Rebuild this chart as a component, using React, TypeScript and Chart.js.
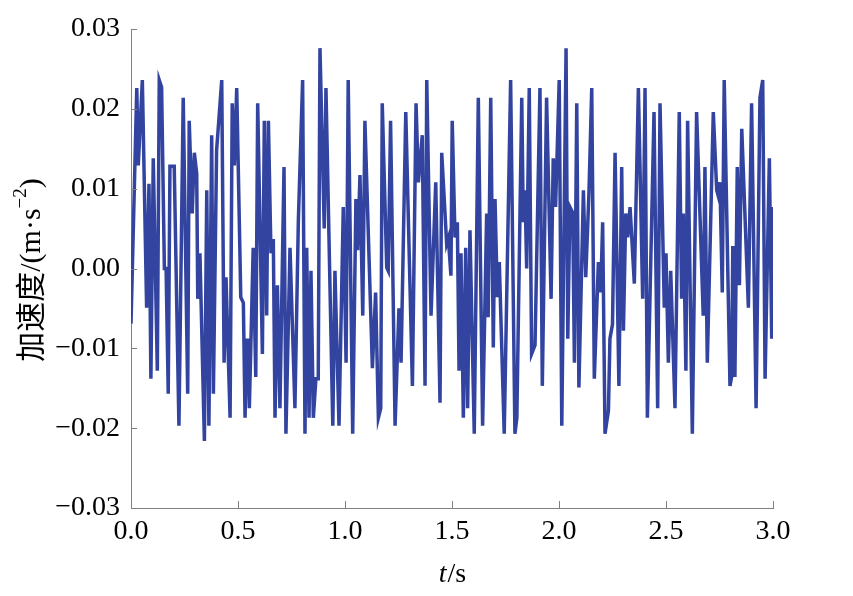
import React, { useEffect, useRef } from "react";
import { Chart, registerables } from "chart.js";

Chart.register(...registerables);

// time (s)
const times: number[] = [
  0.0, 0.027, 0.034, 0.053, 0.073, 0.084, 0.093, 0.104, 0.123, 0.132, 0.143, 0.156, 0.164, 0.174, 0.182, 0.202, 0.224, 0.244, 0.265, 0.272, 0.286, 0.296, 0.307, 0.312, 0.322, 0.343, 0.354, 0.364, 0.377, 0.385,
  0.4, 0.424, 0.435, 0.444, 0.463, 0.473, 0.483, 0.494, 0.513, 0.525, 0.533, 0.541, 0.548, 0.553, 0.571, 0.583, 0.592, 0.614, 0.623, 0.634, 0.642, 0.654, 0.665, 0.673, 0.684, 0.696, 0.715, 0.724, 0.743, 0.766,
  0.782, 0.802, 0.813, 0.821, 0.832, 0.841, 0.852, 0.864, 0.875, 0.883, 0.903, 0.911, 0.943, 0.953, 0.972, 0.992, 1.005, 1.015, 1.036, 1.051, 1.059, 1.07, 1.083, 1.093,
  1.128, 1.143, 1.156, 1.167, 1.174, 1.195, 1.202, 1.213, 1.234, 1.252, 1.262, 1.284, 1.315, 1.332, 1.343, 1.361, 1.374, 1.382, 1.402, 1.424, 1.444, 1.452, 1.475, 1.483, 1.495, 1.501,
  1.514, 1.525, 1.533, 1.542, 1.553, 1.564, 1.573, 1.584, 1.604, 1.623, 1.643, 1.662, 1.669, 1.681, 1.693, 1.701, 1.712, 1.721, 1.744, 1.774, 1.794, 1.803, 1.826, 1.833, 1.841, 1.849, 1.861, 1.872,
  1.888, 1.911, 1.922, 1.942, 1.963, 1.973, 1.984, 2.001, 2.013, 2.033, 2.041, 2.051, 2.064, 2.072, 2.083, 2.093, 2.114, 2.125, 2.14, 2.153, 2.165, 2.184, 2.195, 2.204, 2.215, 2.231, 2.238, 2.25, 2.262,
  2.28, 2.293, 2.301, 2.312, 2.321, 2.332, 2.352, 2.371, 2.391, 2.402, 2.413, 2.444, 2.461, 2.472, 2.492, 2.5, 2.511, 2.522, 2.542, 2.562, 2.573, 2.581, 2.593, 2.601, 2.623,
  2.643, 2.674, 2.682, 2.693, 2.721, 2.737, 2.745, 2.752, 2.763, 2.772, 2.799, 2.807, 2.812, 2.819, 2.822, 2.833, 2.843, 2.854, 2.885, 2.9, 2.921, 2.939, 2.952, 2.963, 2.983, 2.994, 3.0,
];

// acceleration (m/s^2)
const accel: number[] = [
  -0.0069, 0.0226, 0.0129, 0.0236, -0.0049, 0.0106, -0.0138, 0.0138, -0.0128, 0.0236, 0.0227, 0.0, 0.0, -0.0157, 0.0128, 0.0128, -0.0197, 0.0214, -0.0157, 0.0185, 0.0069, 0.0145, 0.0119, -0.0038, 0.0019, -0.0216, 0.0098, -0.0197, 0.0167, -0.0157,
  0.0148, 0.0236, -0.0118, -0.0011, -0.0187, 0.0207, 0.0129, 0.0226, -0.0036, -0.0043, -0.0187, -0.009, -0.009, -0.0175, 0.0026, -0.0136, 0.0207, -0.0107, 0.0185, -0.0059, 0.0185, 0.0019, 0.0037, -0.0187, -0.0021, -0.0175, 0.0127, -0.0207, 0.0026, -0.0175,
  0.006, 0.0236, -0.0207, 0.0026, -0.0187, -0.0003, -0.0187, -0.0138, -0.0138, 0.0276, 0.005, 0.0226, -0.0197, -0.0003, -0.0197, 0.0077, -0.0118, 0.0236, -0.0207, 0.0087, 0.0023, 0.0117, -0.0059, 0.0185,
  -0.0125, -0.003, -0.0187, -0.0175, 0.0207, 0.0001, -0.0003, 0.0185, -0.0197, -0.005, -0.0118, 0.0196, -0.0147, 0.0207, 0.0108, 0.0167, -0.0147, 0.0236, -0.0059, 0.0108, -0.0168, 0.0145, 0.0031, 0.0038, -0.0009, 0.0185,
  0.0039, 0.0058, -0.0128, 0.0019, -0.0187, 0.0026, -0.0175, 0.0048, -0.0207, 0.0214, -0.0197, 0.0069, -0.0061, 0.0214, -0.0099, 0.0087, -0.0036, 0.0008, -0.0207, 0.0236, -0.0207, -0.0187, 0.0214, 0.0058, 0.0098, 0.0, 0.0226, -0.0107,
  -0.0096, 0.0226, -0.0147, 0.0214, -0.0038, 0.0138, 0.0077, 0.0236, -0.0197, 0.0276, -0.0088, 0.0077, 0.007, -0.0118, 0.0207, -0.0149, 0.0098, -0.0011, 0.0095, 0.0226, -0.0138, 0.0008, -0.003, 0.0058, -0.0207, -0.0178, -0.0088, -0.007, 0.0145,
  -0.0147, 0.0127, -0.0078, 0.0069, 0.0039, 0.0077, -0.0019, 0.0226, -0.0038, 0.0226, -0.0187, 0.0196, -0.0175, 0.0207, -0.0049, 0.0019, -0.0118, -0.0003, -0.0175, 0.0196, -0.0038, 0.0069, -0.0128, 0.0185, -0.0207,
  0.0196, -0.0059, 0.0127, -0.0118, 0.0196, 0.0098, 0.009, 0.0108, -0.003, 0.0236, -0.0147, -0.0135, 0.0026, 0.0026, -0.0136, 0.0127, -0.0021, 0.0175, -0.0049, 0.0207, -0.0175, 0.0214, 0.0236, -0.0138, 0.0138, -0.0088, 0.0077,
];

const yTicks: number[] = [-0.03, -0.02, -0.01, 0.0, 0.01, 0.02, 0.03];
const xTicks: number[] = [0, 0.5, 1.0, 1.5, 2.0, 2.5, 3.0];

const yTitleMain = "加速度/(m·s";
const yTitleSup = "−2";
const yTitleEnd = ")";
const xTitleItalic = "t";
const xTitleRest = "/s";

const SERIF = "'Liberation Serif', 'Times New Roman', serif";
const CJK = "'Noto Sans CJK SC', sans-serif";
const AXIS_COLOR = "#808080";

const fmtY = (v: number) => {
  const r = Math.round(v * 100) / 100;
  if (Math.abs(r) < 1e-9) return "0.00";
  const s = Math.abs(r).toFixed(2);
  return r < 0 ? "\u2212" + s : s;
};

const decorPlugin = {
  id: "decor",
  afterDraw(chart: any) {
    const ctx = chart.ctx as CanvasRenderingContext2D;
    const { left, bottom } = chart.chartArea;
    const xs = chart.scales.x;
    const ys = chart.scales.y;
    ctx.save();
    ctx.strokeStyle = AXIS_COLOR;
    ctx.lineWidth = 1;
    ctx.beginPath();
    yTicks.forEach((v) => {
      const y = Math.round(ys.getPixelForValue(v)) + 0.5;
      ctx.moveTo(left, y);
      ctx.lineTo(left + 6, y);
    });
    xTicks.forEach((v) => {
      const x = Math.round(xs.getPixelForValue(v)) + 0.5;
      ctx.moveTo(x, bottom);
      ctx.lineTo(x, bottom - 7);
    });
    ctx.stroke();

    // y title (rotated)
    ctx.fillStyle = "#000";
    ctx.translate(30, 270);
    ctx.rotate(-Math.PI / 2);
    ctx.textBaseline = "middle";
    ctx.textAlign = "left";
    const mainFont = `30px ${CJK}`;
    const latinFont = `30px ${SERIF}`;
    const supFont = `19px ${SERIF}`;
    const cjkPart = yTitleMain.slice(0, 3);
    const latinPart = yTitleMain.slice(3);
    ctx.font = mainFont;
    const w1 = ctx.measureText(cjkPart).width;
    ctx.font = latinFont;
    const w2 = ctx.measureText(latinPart).width;
    const w4 = ctx.measureText(yTitleEnd).width;
    ctx.font = supFont;
    const w3 = ctx.measureText(yTitleSup).width;
    let cx = -(w1 + w2 + w3 + w4) / 2;
    ctx.font = mainFont;
    ctx.fillText(cjkPart, cx, 0);
    cx += w1;
    ctx.font = latinFont;
    ctx.fillText(latinPart, cx, 2);
    cx += w2;
    ctx.font = supFont;
    ctx.fillText(yTitleSup, cx, -9);
    cx += w3;
    ctx.font = latinFont;
    ctx.fillText(yTitleEnd, cx, 2);
    ctx.setTransform(1, 0, 0, 1, 0, 0);

    // x title
    ctx.textBaseline = "alphabetic";
    ctx.textAlign = "left";
    ctx.font = `italic 28px ${SERIF}`;
    const tw1 = ctx.measureText(xTitleItalic).width;
    ctx.font = `28px ${SERIF}`;
    const tw2 = ctx.measureText(xTitleRest).width;
    const sx = 452 - (tw1 + tw2) / 2;
    ctx.font = `italic 28px ${SERIF}`;
    ctx.fillText(xTitleItalic, sx, 582);
    ctx.font = `28px ${SERIF}`;
    ctx.fillText(xTitleRest, sx + tw1 + 1, 582);
    ctx.restore();
  },
};

export default function App() {
  const ref = useRef<HTMLCanvasElement | null>(null);
  useEffect(() => {
    if (!ref.current) return;
    const points = times.map((t, i) => ({ x: t, y: accel[i] }));
    const chart = new Chart(ref.current, {
      type: "line",
      data: {
        datasets: [
          {
            data: points,
            borderColor: "rgb(50, 68, 160)",
            borderWidth: 3.5,
            pointRadius: 0,
            tension: 0,
            fill: false,
          },
        ],
      },
      options: {
        animation: false,
        responsive: false,
        devicePixelRatio: 1,
        layout: { padding: { left: 0, right: 80, top: 29, bottom: 0 } },
        plugins: { legend: { display: false }, tooltip: { enabled: false } },
        scales: {
          x: {
            type: "linear",
            min: 0,
            max: 3,
            afterFit: (s: any) => {
              s.height = 88;
            },
            afterBuildTicks: (s: any) => {
              s.ticks = xTicks.map((v) => ({ value: v }));
            },
            ticks: {
              color: "#000",
              font: { family: SERIF, size: 28 },
              padding: 7,
              maxRotation: 0,
              callback: (v: any) => Number(v).toFixed(1),
            },
            grid: { display: false, drawTicks: false },
            border: { display: true, color: AXIS_COLOR, width: 1 },
          },
          y: {
            type: "linear",
            min: -0.03,
            max: 0.03,
            afterFit: (s: any) => {
              s.width = 131;
            },
            afterBuildTicks: (s: any) => {
              s.ticks = yTicks.map((v) => ({ value: v }));
            },
            ticks: {
              color: "#000",
              font: { family: SERIF, size: 28 },
              padding: 11,
              callback: (v: any) => fmtY(Number(v)),
            },
            grid: { display: false, drawTicks: false },
            border: { display: true, color: AXIS_COLOR, width: 1 },
          },
        },
      },
      plugins: [decorPlugin],
    } as any);
    return () => chart.destroy();
  }, []);
  return (
    <div style={{ position: "absolute", left: 0, top: 0, width: 853, height: 596, background: "#fff" }}>
      <canvas ref={ref} width={853} height={596} style={{ display: "block" }} />
    </div>
  );
}
